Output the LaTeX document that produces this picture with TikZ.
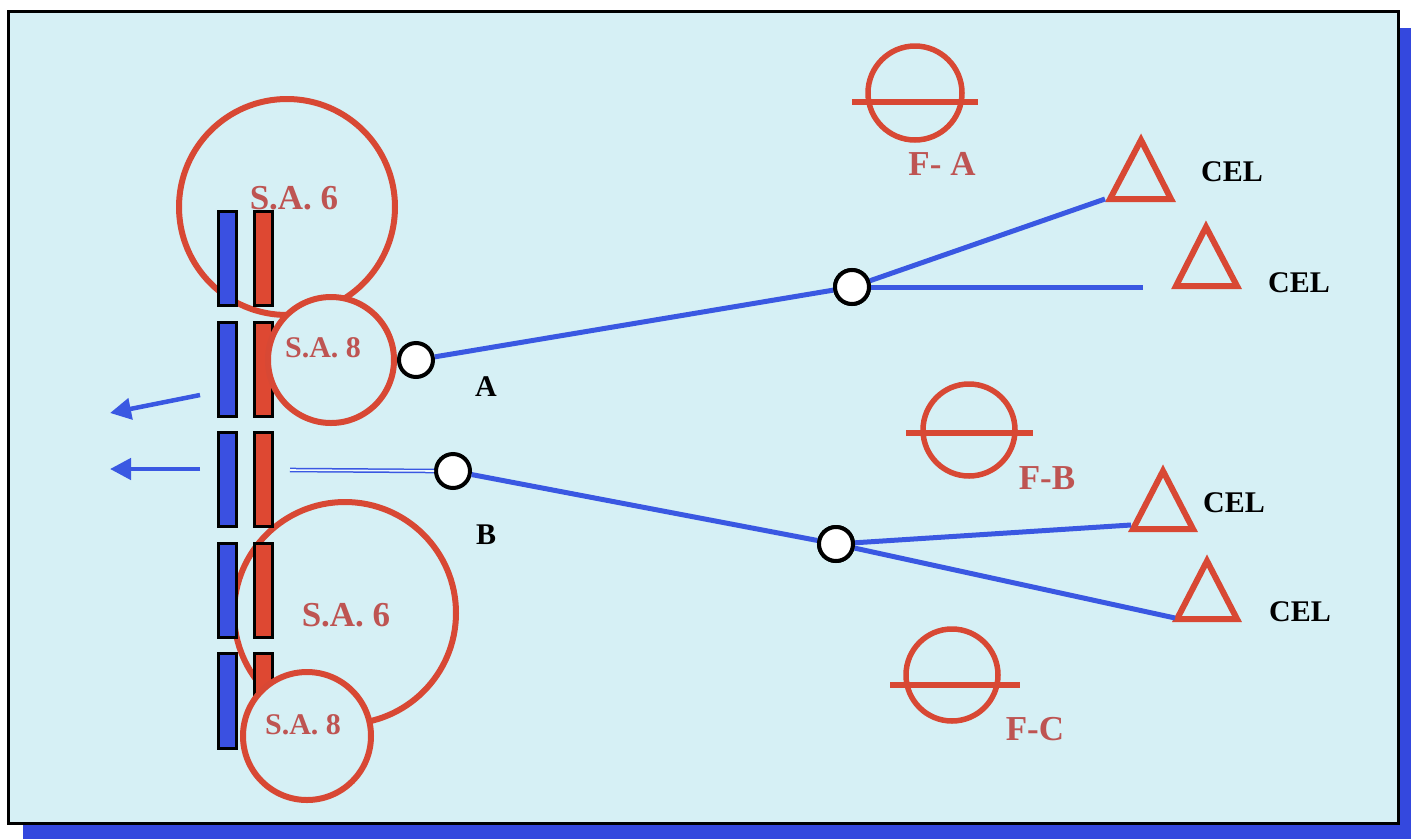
\documentclass[tikz,border=0pt]{standalone}
\usepackage{fontspec}
\setmainfont{Liberation Serif}
\usetikzlibrary{arrows.meta}
\definecolor{panel}{RGB}{214,240,245}
\definecolor{shadowblue}{RGB}{52,72,222}
\definecolor{sared}{RGB}{216,72,52}
\definecolor{satext}{RGB}{190,84,82}
\definecolor{lineblue}{RGB}{58,88,226}
\definecolor{barblue}{RGB}{58,80,225}
\definecolor{barred}{RGB}{222,72,50}
\begin{document}
\begin{tikzpicture}[x=1pt,y=-1pt,
  saring/.style={draw=sared,line width=6pt},
  safill/.style={draw=sared,line width=6pt,fill=panel},
  bluebar/.style={draw=black,line width=3pt,fill=barblue},
  redbar/.style={draw=black,line width=3pt,fill=barred},
  bigsa/.style={text=satext,inner sep=0pt,font=\bfseries\fontsize{35}{38}\selectfont},
  smallsa/.style={text=satext,inner sep=0pt,font=\bfseries\fontsize{30}{33}\selectfont},
  flabel/.style={text=satext,inner sep=0pt,font=\bfseries\fontsize{35}{38}\selectfont},
  blabel/.style={text=black,inner sep=0pt,font=\bfseries\fontsize{30}{33}\selectfont},
  port/.style={circle,draw=black,line width=4pt,fill=white,minimum size=34pt,inner sep=0pt},
  link/.style={draw=lineblue,line width=5pt},
  outarrow/.style={draw=lineblue,line width=4.5pt,-{Triangle[length=21pt,width=21pt]}},
  filter/.style={draw=sared,line width=5.5pt},
  fbar/.style={draw=sared,line width=6pt},
  cel/.style={draw=sared,line width=6pt,line join=miter},
]
\useasboundingbox (0,0) rectangle (1411,839);
% frame with shadow
\fill[shadowblue] (23,28) rectangle (1411,839);
\filldraw[fill=panel,draw=black,line width=3pt] (8,11) rectangle (1398,823);

% big S.A. 6 rings
\draw[saring] (287,207) circle[radius=108];
\draw[saring] (345,613) circle[radius=111];

% bars
\foreach \ya/\yb in {211/305,322/416,432/526,543/637,653/748}{
  \draw[bluebar] (218,\ya) rectangle (236,\yb);
  \draw[redbar] (254,\ya) rectangle (272,\yb);
}

% S.A. 8 rings (filled, cover bars)
\draw[safill] (331,360) circle[radius=63];
\draw[safill] (307,736) circle[radius=64];

% labels on rings
\node[bigsa] (sa6t) at (294,198) {S.A. 6};
\node[smallsa] (sa8t) at (323,348) {S.A. 8};
\node[bigsa] (sa6b) at (346,615) {S.A. 6};
\node[smallsa] (sa8b) at (303,725) {S.A. 8};

% outgoing arrows
\coordinate (o1s) at (200,395);
\coordinate (o1e) at (110,413);
\coordinate (o2s) at (200,469);
\coordinate (o2e) at (110,469);
\draw[outarrow] (o1s) -- (o1e);
\draw[outarrow] (o2s) -- (o2e);

% nodes
\node[port] (A) at (416,360) {};
\node[port] (B) at (453,471) {};
\node[port] (JA) at (852,287) {};
\node[port] (JB) at (836,544) {};
\node[blabel] (lA) at (486,387) {A};
\node[blabel] (lB) at (486,535) {B};

% triangles (CEL)
\coordinate (t1l) at (1110,199);
\coordinate (t2l) at (1176,286);
\coordinate (t3l) at (1133,529);
\coordinate (t4l) at (1177,619);
\draw[cel] (t1l) -- (1141,140) -- (1171,199) -- cycle;
\draw[cel] (t2l) -- (1206,227) -- (1237,286) -- cycle;
\draw[cel] (t3l) -- (1163,471) -- (1193,529) -- cycle;
\draw[cel] (t4l) -- (1207,561) -- (1237,619) -- cycle;
\node[blabel] (c1) at (1232,172) {CEL};
\node[blabel] (c2) at (1299,283) {CEL};
\node[blabel] (c3) at (1234,503) {CEL};
\node[blabel] (c4) at (1300,612) {CEL};

% connectors
\coordinate (bstart) at (290,470);
\coordinate (hend) at (1143,287);
\coordinate (t1e) at (1105,199);
\coordinate (t3e) at (1131,525);
\coordinate (t4e) at (1175,618);
\draw[draw=lineblue,line width=1.5pt,double=white!60!panel,double distance=1.6pt] (bstart) -- (B.west);
\draw[link] (A) -- (JA);
\draw[link] (JA) -- (t1e);
\draw[link] (JA.east) -- (hend);
\draw[link] (B) -- (JB);
\draw[link] (JB) -- (t3e);
\draw[link] (JB) -- (t4e);
\node[port] at (JA) {};
\node[port] at (JB) {};

% filters
\draw[filter] (915,93) circle[radius=47];
\draw[fbar] (852,102) -- (978,102);
\node[flabel] (fa) at (942,164) {F- A};
\draw[filter] (969,430) circle[radius=46];
\draw[fbar] (906,433) -- (1033,433);
\node[flabel] (fb) at (1047,478) {F-B};
\draw[filter] (952,675) circle[radius=46];
\draw[fbar] (890,685) -- (1020,685);
\node[flabel] (fc) at (1035,729) {F-C};
\end{tikzpicture}
\end{document}
